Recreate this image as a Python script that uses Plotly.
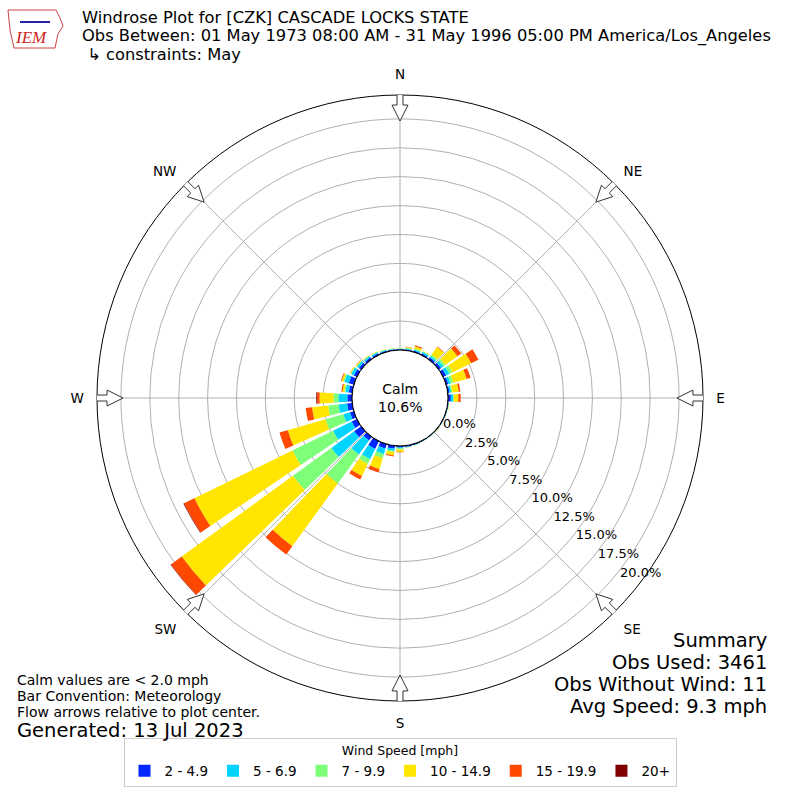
import math
import plotly.graph_objects as go

# wind directions (deg, meteorological) and speed bins
directions = list(range(0, 360, 10))
speed_bins = ["2 - 4.9", "5 - 6.9", "7 - 9.9", "10 - 14.9", "15 - 19.9", "20+"]
bin_colors = ["#0028ff", "#00d4ff", "#7dff7a", "#ffe500", "#ff4800", "#800000"]

# percent of observations per direction, one list per speed bin
pct_2_5 = [0.06, 0.08, 0.12, 0.15, 0.20, 0.25, 0.30, 0.20, 0.15, 0.25, 0.06, 0.05,
           0.05, 0.04, 0.04, 0.05, 0.08, 0.10, 0.12, 0.25, 0.40, 0.75, 0.40, 0.75,
           0.50, 0.35, 0.45, 0.40, 0.30, 0.45, 0.30, 0.25, 0.20, 0.15, 0.10, 0.08]
pct_5_7 = [0.05, 0.08, 0.10, 0.15, 0.15, 0.25, 0.30, 0.20, 0.15, 0.20, 0.04, 0.03,
           0.03, 0.03, 0.02, 0.03, 0.04, 0.05, 0.10, 0.20, 0.50, 1.00, 1.50, 2.45,
           1.80, 0.60, 0.75, 0.78, 0.30, 0.40, 0.25, 0.20, 0.15, 0.12, 0.08, 0.06]
pct_7_10 = [0.03, 0.06, 0.08, 0.05, 0.15, 0.20, 0.30, 0.25, 0.10, 0.05, 0.02, 0.02,
            0.01, 0.02, 0.02, 0.02, 0.03, 0.03, 0.08, 0.10, 0.35, 0.45, 3.10, 4.10,
            3.90, 1.60, 0.90, 0.43, 0.10, 0.10, 0.05, 0.05, 0.05, 0.04, 0.04, 0.03]
pct_10_15 = [0.01, 0.06, 0.20, 0.05, 0.80, 1.30, 1.80, 1.20, 0.55, 0.40, 0.03, 0.00,
             0.01, 0.03, 0.00, 0.00, 0.00, 0.02, 0.20, 0.30, 1.00, 1.15, 6.70, 11.90,
             9.45, 3.40, 1.40, 1.20, 0.15, 0.15, 0.08, 0.08, 0.05, 0.04, 0.03, 0.03]
pct_15_20 = [0.00, 0.02, 0.10, 0.00, 0.05, 0.40, 0.70, 0.35, 0.15, 0.20, 0.00, 0.00,
             0.00, 0.00, 0.00, 0.00, 0.00, 0.00, 0.05, 0.09, 0.30, 0.35, 0.90, 1.15,
             1.00, 0.75, 0.55, 0.21, 0.10, 0.07, 0.02, 0.02, 0.00, 0.00, 0.00, 0.00]
pct_20p = [0.00, 0.00, 0.00, 0.00, 0.00, 0.00, 0.00, 0.00, 0.00, 0.00, 0.00, 0.00,
           0.00, 0.00, 0.00, 0.00, 0.00, 0.00, 0.00, 0.00, 0.00, 0.00, 0.00, 0.05,
           0.05, 0.00, 0.00, 0.08, 0.00, 0.00, 0.00, 0.00, 0.00, 0.00, 0.00, 0.00]
bin_values = [pct_2_5, pct_5_7, pct_7_10, pct_10_15, pct_15_20, pct_20p]

compass_vals = [0, 45, 90, 135, 180, 225, 270, 315]
compass_text = ["N", "NE", "E", "SE", "S", "SW", "W", "NW"]
ring_vals = [0, 2.5, 5, 7.5, 10, 12.5, 15, 17.5, 20]
ring_text = ["%.1f%%" % v for v in ring_vals]

calm_pct = 10.6
summary = ["Summary", "Obs Used: 3461", "Obs Without Wind: 11", "Avg Speed: 9.3 mph"]
notes = ["Calm values are < 2.0 mph", "Bar Convention: Meteorology",
         "Flow arrows relative to plot center."]

FONT = "DejaVu Sans"
R_MAX = 22.07
OUTER_PX = 303.0
HOLE_PX = 48.0
PX_PER = (OUTER_PX - HOLE_PX) / R_MAX


def to_r(px):
    return (px - HOLE_PX) / PX_PER


def arrow(d):
    # hollow flow arrow pointing to the plot center
    r_tip, r_hb, r_tail = to_r(277), to_r(293), to_r(307)
    a_head = math.degrees(math.atan(8 / 293))
    a_sh = math.degrees(math.atan(3 / 293))
    a_st = math.degrees(math.atan(3 / 307))
    rr = [r_tip, r_hb, r_hb, r_tail, r_tail, r_hb, r_hb, r_tip]
    tt = [d, d - a_head, d - a_sh, d - a_st, d + a_st, d + a_sh, d + a_head, d]
    return rr, tt


def pp(x, y):
    # pixel -> paper coords for the logo path
    return "%.4f,%.4f" % (x / 800, 1 - y / 800)


fig = go.Figure()
for name, color, vals in zip(speed_bins, bin_colors, bin_values):
    fig.add_trace(go.Barpolar(r=vals, theta=directions, width=8, name=name,
                              marker=dict(color=color, line=dict(width=0))))

ring = list(range(0, 362, 2))
fig.add_trace(go.Scatterpolar(r=[0] * len(ring), theta=ring, mode="lines",
                              line=dict(color="black", width=1.2),
                              showlegend=False, hoverinfo="skip", cliponaxis=False))
for d in compass_vals:
    rr, tt = arrow(d)
    fig.add_trace(go.Scatterpolar(r=rr, theta=tt, mode="lines", fill="toself",
                                  fillcolor="white", line=dict(color="#333333", width=1),
                                  showlegend=False, hoverinfo="skip", cliponaxis=False))

fig.update_layout(
    width=800, height=800,
    margin=dict(l=0, r=0, t=0, b=0),
    paper_bgcolor="white",
    font=dict(family=FONT, size=13, color="black"),
    polar=dict(
        domain=dict(x=[(400 - OUTER_PX) / 800, (400 + OUTER_PX) / 800],
                    y=[(402 - OUTER_PX) / 800, (402 + OUTER_PX) / 800]),
        hole=HOLE_PX / OUTER_PX,
        bgcolor="white",
        barmode="stack",
        angularaxis=dict(rotation=90, direction="clockwise",
                         tickvals=compass_vals, ticktext=compass_text,
                         showgrid=True, gridcolor="#b0b0b0", gridwidth=1,
                         showline=True, linecolor="black", linewidth=1,
                         ticks="outside", ticklen=10, tickcolor="rgba(0,0,0,0)",
                         layer="below traces",
                         tickfont=dict(size=13.5)),
        radialaxis=dict(range=[0, R_MAX], tickvals=ring_vals, ticktext=ring_text,
                        showgrid=True, gridcolor="#b0b0b0", gridwidth=1,
                        showline=False, ticks="", angle=-40, tickangle=-40,
                        side="counterclockwise", layer="below traces",
                        tickfont=dict(size=13)),
    ),
    legend=dict(orientation="h", x=0.5, xanchor="center", y=0.016, yanchor="bottom",
                title=dict(text="Wind Speed [mph]", side="top center", font=dict(size=12.5)),
                bordercolor="#cccccc", borderwidth=1, font=dict(size=13.5)),
)

# IEM logo: rough state outline, station glyph and text
logo_outline = ("M " + pp(8, 10) + " L " + pp(56, 10) + " L " + pp(60, 18) + " L " + pp(63, 26)
                + " L " + pp(58, 34) + " L " + pp(55, 48) + " L " + pp(14, 48)
                + " L " + pp(10, 30) + " Z")
fig.add_shape(type="path", path=logo_outline, xref="paper", yref="paper",
              line=dict(color="#cc4444", width=1), fillcolor="white")
fig.add_shape(type="line", x0=20 / 800, x1=50 / 800, y0=1 - 22 / 800, y1=1 - 22 / 800,
              xref="paper", yref="paper", line=dict(color="#2222aa", width=2))

ann = []
title_lines = ["Windrose Plot for [CZK] CASCADE LOCKS STATE",
               "Obs Between: 01 May 1973 08:00 AM - 31 May 1996 05:00 PM America/Los_Angeles",
               " ↳ constraints: May"]
for txt, py in zip(title_lines, [18, 36, 55]):
    ann.append(dict(text=txt, x=80 / 800, y=1 - py / 800, xanchor="left", yanchor="middle",
                    font=dict(size=16.3)))
ann.append(dict(text="<i>IEM</i>", x=31 / 800, y=1 - 38 / 800, xanchor="center",
                yanchor="middle", font=dict(size=17, color="#cc2222", family="Liberation Serif")))
ann.append(dict(text="Calm<br>%.1f%%" % calm_pct, x=400 / 800, y=1 - 398 / 800,
                xanchor="center", yanchor="middle", font=dict(size=14)))
for txt, py in zip(summary, [640, 662, 684, 706]):
    ann.append(dict(text=txt, x=769 / 800, y=1 - py / 800, xanchor="right",
                    yanchor="middle", font=dict(size=19.5)))
for txt, py in zip(notes, [680, 696, 712]):
    ann.append(dict(text=txt, x=15 / 800, y=1 - py / 800, xanchor="left",
                    yanchor="middle", font=dict(size=14)))
ann.append(dict(text="Generated: 13 Jul 2023", x=15 / 800, y=1 - 730 / 800,
                xanchor="left", yanchor="middle", font=dict(size=19.5)))
for a in ann:
    a.update(xref="paper", yref="paper", showarrow=False)
fig.update_layout(annotations=ann)

fig.write_html("out.html", config={"displayModeBar": False},
               post_script="document.body.style.margin='0px';")
